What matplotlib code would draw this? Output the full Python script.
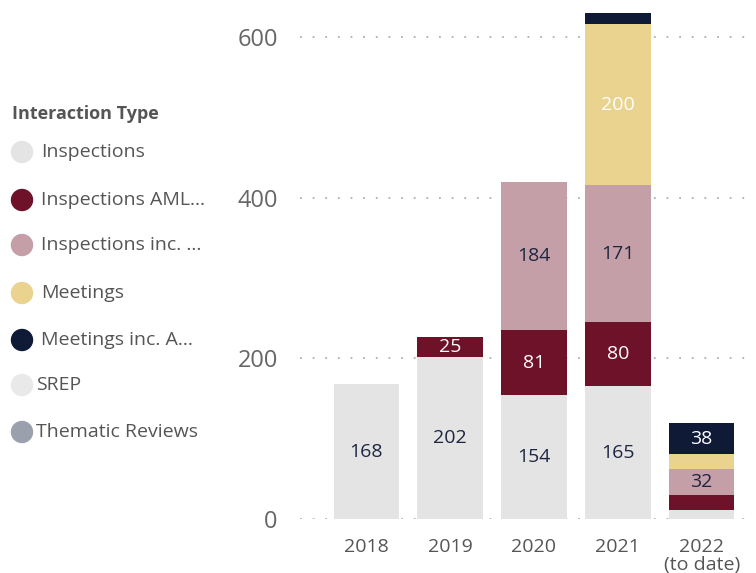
import matplotlib
matplotlib.use("Agg")
import matplotlib.pyplot as plt
from matplotlib.patches import Ellipse
import numpy as np

plt.rcParams['font.family'] = ['Open Sans', 'DejaVu Sans']

years = ["2018", "2019", "2020", "2021", "2022\n(to date)"]
series = ["Inspections", "Inspections AML\u2026", "Inspections inc. \u2026",
          "Meetings", "Meetings inc. A\u2026", "SREP", "Thematic Reviews"]
inspections = [168, 202, 154, 165, 11]
inspections_aml = [0, 25, 81, 80, 19]
inspections_inc = [0, 0, 184, 171, 32]
meetings = [0, 0, 0, 200, 19]
meetings_inc = [0, 0, 0, 14, 38]
srep = [0, 0, 0, 0, 0]
thematic = [0, 0, 0, 0, 0]
colors = ["#e4e4e4", "#6e1229", "#c59fa8", "#ead38f", "#0e1a36", "#e9e9e9", "#9ba0ad"]
label_colors = ["#1e2540", "white", "#1e2540", "white", "white", "#1e2540", "white"]

fig = plt.figure(figsize=(7.56, 5.73), dpi=100)
ax = fig.add_axes([300 / 756, 1 - 519 / 573, 452 / 756, 514 / 573])

x = np.arange(len(years))
bottom = np.zeros(len(years))
data = [inspections, inspections_aml, inspections_inc, meetings, meetings_inc, srep, thematic]
for vals, c, lc in zip(data, colors, label_colors):
    vals = np.array(vals, dtype=float)
    ax.bar(x, vals, 0.78, bottom=bottom, color=c, zorder=2)
    for xi, v, b in zip(x, vals, bottom):
        if v >= 25:
            ax.text(xi, b + v / 2, f"{int(v)}", ha="center", va="center",
                    color=lc, fontsize=14, zorder=3)
    bottom += vals

ax.set_xlim(-0.79, 4.6)
ax.set_ylim(0, 640)
ax.set_yticks([0, 200, 400, 600])
ax.set_xticks(x)
ax.set_xticklabels(years, fontsize=14, color="#555555", linespacing=1.0)
ax.tick_params(axis="y", labelsize=17, labelcolor="#666666", length=0, pad=16)
ax.tick_params(axis="x", length=0, pad=14)
ax.grid(axis="y", color="#b0b0b0", linestyle=(0, (1, 6)), linewidth=1.3, zorder=1)
for s in ax.spines.values():
    s.set_visible(False)

# legend drawn by hand on the left
fig.text(12 / 756, 1 - 114 / 573, "Interaction Type", fontsize=13, fontweight="bold",
         color="#555555", va="center")
ys = [152, 200, 245, 293, 340, 385, 432]
text_x = [41, 41, 41, 41, 41, 36, 36]
for name, c, yp, tx in zip(series, colors, ys, text_x):
    fig.patches.append(Ellipse((22 / 756, 1 - yp / 573), 21 / 756, 21 / 573,
                               transform=fig.transFigure, color=c, figure=fig))
    fig.text(tx / 756, 1 - yp / 573, name, fontsize=14, color="#555555", va="center")

fig.savefig("out.png", dpi=100)
